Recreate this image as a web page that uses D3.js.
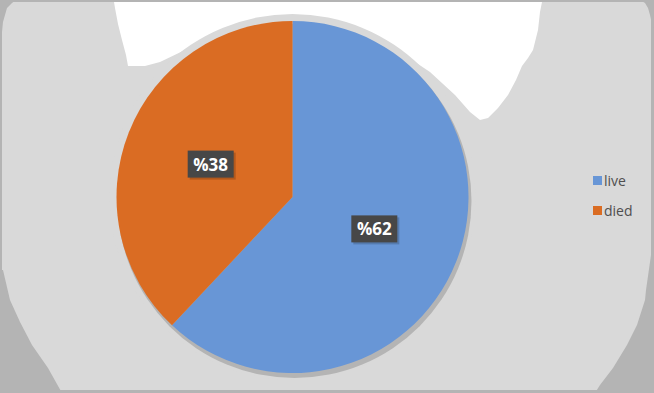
<!DOCTYPE html>
<html><head><meta charset="utf-8">
<script src="https://cdn.jsdelivr.net/npm/d3@7"></script>
<style>html,body{margin:0;padding:0;background:#fff}svg{display:block}</style>
</head><body>
<svg id="c" width="654" height="393"></svg>
<script>
const categories = ["live", "died"];
const values = [62, 38];
const labels = ["%62", "%38"];
const colors = ["#6896d6", "#da6c23"];

const svg = d3.select("#c");
const W = 654, H = 393;
// background (posterized gradient look)
svg.append("rect").attr("width", W).attr("height", H).attr("fill", "#d9d9d9");
const dark = "#b4b4b4";
svg.append("rect").attr("width", W).attr("height", 2).attr("fill", dark);
svg.append("rect").attr("y", H - 3).attr("width", W).attr("height", 3).attr("fill", dark);
svg.append("rect").attr("width", 2).attr("height", H).attr("fill", dark);
svg.append("rect").attr("x", W - 3).attr("width", 3).attr("height", H).attr("fill", dark);
const line = d3.line();
svg.append("path").attr("fill", dark).attr("d", line([[0,270],[3,270],[10,300],[20,322],[32,345],[48,368],[62,393],[0,393]]) + "Z");
svg.append("path").attr("fill", dark).attr("d", line([[654,255],[651,255],[646,290],[645,300],[637,325],[627,345],[613,368],[600,385],[595,393],[654,393]]) + "Z");
svg.append("path").attr("fill", dark).attr("d", line([[0,0],[16,0],[12,3],[7,8],[5,15],[3,22],[2,32],[0,32]]) + "Z");
svg.append("path").attr("fill", dark).attr("d", line([[654,0],[640,0],[645,3],[648,8],[650,15],[652,24],[654,30]]) + "Z");
// white top region
svg.append("path").attr("fill", "#fff").attr("d", line([[114,2],[542,2],[540,12],[538,30],[533,50],[528,58],[522,66],[516,80],[508,95],[498,108],[488,118],[480,120],[470,112],[455,95],[430,72],[400,52],[360,34],[320,26],[292,25],[260,27],[220,36],[185,50],[160,62],[145,66],[128,66],[126,55],[122,40],[118,24],[115,8]]) + "Z");

const cx = 292.5, cy = 197, R = 176;
const g = svg.append("g").attr("transform", `translate(${cx},${cy})`);
g.append("circle").attr("r", R + 7).attr("fill", "#d9d9d9");
g.append("circle").attr("cx", 2).attr("cy", 4).attr("r", R + 1).attr("fill", "#b4b4b4");

const pie = d3.pie().sort(null).value(d => d)(values);
const arc = d3.arc().innerRadius(0).outerRadius(R);
const labArc = d3.arc().innerRadius(R / 2).outerRadius(R / 2);
g.selectAll("path.s").data(pie).join("path").attr("class", "s")
  .attr("d", arc).attr("fill", (d, i) => colors[i]);

pie.forEach((d, i) => {
  const [x, y] = labArc.centroid(d);
  const lg = g.append("g").attr("transform", `translate(${x},${y})`);
  lg.append("rect").attr("x", -21).attr("y", -12).attr("width", 46).attr("height", 27).attr("fill", "#000").attr("opacity", 0.18);
  lg.append("rect").attr("x", -23).attr("y", -14).attr("width", 46).attr("height", 27).attr("fill", "#474747");
  lg.append("text").attr("text-anchor", "middle").attr("y", 6)
    .attr("font-family", "Open Sans, Liberation Sans, sans-serif").attr("font-weight", "bold")
    .attr("font-size", 17).attr("fill", "#fff").text(labels[i]);
});

const leg = svg.append("g").attr("transform", "translate(593,176)");
categories.forEach((c, i) => {
  const r = leg.append("g").attr("transform", `translate(0,${i * 30})`);
  r.append("rect").attr("width", 9).attr("height", 9).attr("fill", colors[i]);
  r.append("text").attr("x", 11).attr("y", 10).attr("font-family", "Open Sans, Liberation Sans, sans-serif")
    .attr("font-size", 14).attr("fill", "#4f4f4f").text(c);
});
</script>
</body></html>
